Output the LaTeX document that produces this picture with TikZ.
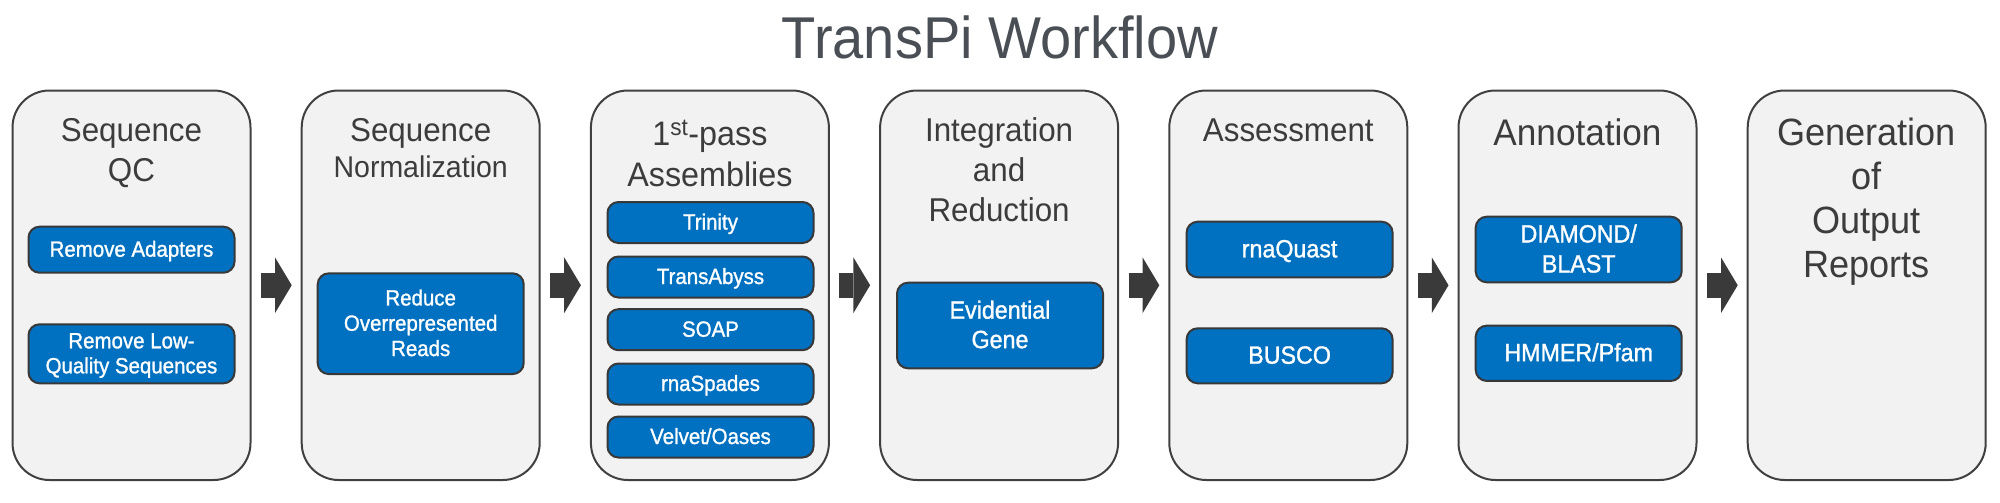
\documentclass[tikz,border=0pt]{standalone}
\usepackage{fontspec}
\setmainfont{Liberation Sans}[FakeStretch=0.95]
\newfontfamily\subfont{Liberation Sans}[FakeStretch=0.93, FakeBold=1.2]
\usetikzlibrary{arrows.meta}
\definecolor{boxfill}{HTML}{F2F2F2}
\definecolor{boxline}{HTML}{404040}
\definecolor{subblue}{HTML}{0070C0}
\definecolor{subline}{HTML}{383838}
\definecolor{headtxt}{HTML}{3C3C3C}
\definecolor{titletxt}{HTML}{4A4F56}
\definecolor{arrowc}{HTML}{3A3A3A}
\newcommand\stk[2][t]{\begin{tabular}[#1]{@{}c@{}}#2\end{tabular}}
\newcommand\sbt[1]{\vbox{\kern4pt\hbox{\stk[c]{#1}}}}
\begin{document}
\begin{tikzpicture}[x=1pt,y=-1pt,
  stage/.style={draw=boxline, line width=2pt, fill=boxfill, rounded corners=37pt,
    minimum width=238pt, minimum height=389.5pt, inner sep=0pt},
  sub/.style={draw=subline, line width=2pt, fill=subblue, rounded corners=11pt,
    minimum width=206pt, text=white, inner sep=0pt},
  subS/.style={sub, font=\subfont\fontsize{22}{25}\selectfont},
  subL/.style={sub, font=\subfont\fontsize{25}{29.5}\selectfont},
  head/.style={anchor=base, text=headtxt, inner sep=0pt, font=\fontsize{33}{40}\selectfont},
  flow/.style={line width=25.3pt, draw=arrowc, shorten <=9.5pt, shorten >=9pt,
    -{Triangle[length=16.7pt,width=55.7pt,line width=0pt]}}]
\useasboundingbox (0,0) rectangle (2000,503);

\node[anchor=base, text=titletxt, inner sep=0pt, font=\fontsize{59}{70}\selectfont] (title) at (1000,59) {TransPi Workflow};

% stages
\node[stage] (st1) at (131.5,285.25) {};
\node[stage] (st2) at (420.7,285.25) {};
\node[stage] (st3) at (709.9,285.25) {};
\node[stage] (st4) at (999.1,285.25) {};
\node[stage] (st5) at (1288.3,285.25) {};
\node[stage] (st6) at (1577.5,285.25) {};
\node[stage] (st7) at (1866.7,285.25) {};

% headings
\node[head] (h1) at (131.5,141.7) {\stk{Sequence\\QC}};
\node[head, font=\fontsize{33}{36}\selectfont] (h2) at (420.7,141.7) {\stk{Sequence\\\fontsize{30}{36}\selectfont Normalization}};
\node[head, font=\fontsize{34}{41}\selectfont] (h3) at (709.9,145) {\stk{1\textsuperscript{st}-pass\\Assemblies}};
\node[head] (h4) at (999.1,141.7) {\stk{Integration\\and\\Reduction}};
\node[head] (h5) at (1288.3,141.7) {Assessment};
\node[head, font=\fontsize{37}{44}\selectfont] (h6) at (1577.5,145) {Annotation};
\node[head, font=\fontsize{38}{44.3}\selectfont] (h7) at (1866.7,145) {\stk{Generation\\of\\Output\\Reports}};

% sub-steps
\node[subS, minimum height=46pt] (s11) at (131.5,249.7) {\sbt{Remove Adapters}};
\node[subS, minimum height=59pt] (s12) at (131.5,353.8) {\sbt{Remove Low-\\Quality Sequences}};
\node[subS, minimum height=100.7pt, font=\subfont\fontsize{22}{25.3}\selectfont] (s21) at (420.7,323.7) {\sbt{Reduce\\Overrepresented\\Reads}};
\node[subS, minimum height=41pt] (s31) at (710.5,222.5) {\sbt{Trinity}};
\node[subS, minimum height=41pt] (s32) at (710.5,277) {\sbt{TransAbyss}};
\node[subS, minimum height=41pt] (s33) at (710.5,329.7) {\sbt{SOAP}};
\node[subS, minimum height=41pt] (s34) at (710.5,384) {\sbt{rnaSpades}};
\node[subS, minimum height=41pt] (s35) at (710.5,437) {\sbt{Velvet/Oases}};
\node[subL, minimum height=85.6pt] (s41) at (1000,325.5) {\sbt{Evidential\\Gene}};
\node[subL, minimum height=55.6pt] (s51) at (1289.6,249.5) {\sbt{rnaQuast}};
\node[subL, minimum height=55pt] (s52) at (1289.6,355.8) {\sbt{BUSCO}};
\node[subL, minimum height=65.6pt, font=\subfont\fontsize{25}{30}\selectfont] (s61) at (1578.7,249.5) {\sbt{DIAMOND/\\BLAST}};
\node[subL, minimum height=55.3pt] (s62) at (1578.7,353.3) {\sbt{HMMER/Pfam}};

% arrows
\draw[flow] (st1) -- (st2);
\draw[flow] (st2) -- (st3);
\draw[flow] (st3) -- (st4);
\draw[flow] (st4) -- (st5);
\draw[flow] (st5) -- (st6);
\draw[flow] (st6) -- (st7);
\end{tikzpicture}
\end{document}
